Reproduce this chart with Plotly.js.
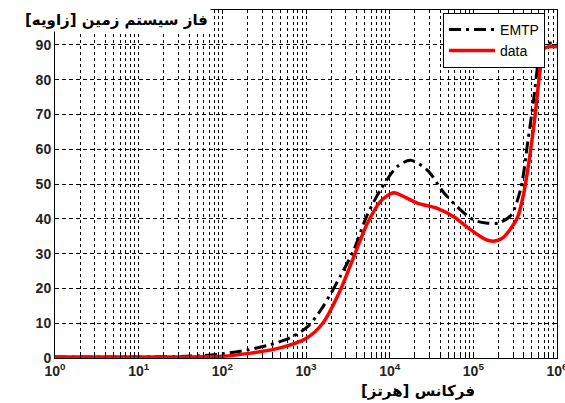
<!DOCTYPE html>
<html>
<head>
<meta charset="utf-8">
<script src="https://cdn.plot.ly/plotly-3.0.1.min.js"></script>
<style>
  html, body { margin: 0; padding: 0; background: #fff; }
  #chart { width: 565px; height: 403px; }
</style>
</head>
<body>
<div id="chart"></div>
<script>
// Ground system phase versus frequency: EMTP model against measured data
const emtpFreq = [1, 10, 50, 100, 200, 372, 646, 1047, 1622, 2570, 3715, 5370, 7762, 12300,
  17780, 28180, 44670, 70790, 100000, 141300, 199500, 281800, 371500, 446700, 524800,
  602600, 660700, 1000000];
const emtpPhase = [0.3, 0.3, 0.6, 1.2, 2.3, 3.8, 5.8, 9, 15, 23.5, 31, 41, 48.3, 55,
  56.8, 54, 47.4, 42.5, 39.7, 38.8, 38.8, 41, 49, 62, 74, 86, 90, 90.5];

const dataFreq = [1, 10, 100, 219, 490, 1000, 1585, 2570, 3715, 5370, 7762, 11220,
  15850, 21380, 37150, 58880, 93330, 141300, 177800, 223900, 257000, 338800, 398100,
  446700, 537000, 631000, 707900, 1000000];
const dataPhase = [0.3, 0.3, 0.5, 1.4, 2.9, 5.6, 10, 19.5, 29, 38.5, 45, 47.5,
  46, 44.5, 43, 40.5, 36.8, 34, 33.6, 34.5, 36, 40.5, 47, 54, 68, 83, 89, 89.5];

// decade ticks carry the labels; 2..9 x 10^n get minor ticks and grid lines
const decades = [0, 1, 2, 3, 4, 5, 6];
const xTickVals = decades.map(function (d) { return Math.pow(10, d); });
const xTickText = decades.map(function (d) { return '10<sup>' + d + '</sup>'; });
const xMinorVals = [];
decades.slice(0, -1).forEach(function (d) {
  [2, 3, 4, 5, 6, 7, 8, 9].forEach(function (m) { xMinorVals.push(m * Math.pow(10, d)); });
});
const yTickVals = [0, 10, 20, 30, 40, 50, 60, 70, 80, 90];

const xTitle = 'فرکانس [هرتز]';
const yTitle = 'فاز سیستم زمین [زاویه]';

const tickFont = { family: 'Arial, "Liberation Sans", sans-serif', size: 14, color: '#222', weight: 'bold' };
const titleFont = { family: 'Tahoma, "DejaVu Sans", sans-serif', size: 15, color: '#000', weight: 'bold' };

const traces = [
  {
    x: emtpFreq, y: emtpPhase, name: 'EMTP', type: 'scatter', mode: 'lines',
    line: { color: '#000', width: 3, dash: '12px,5px,3px,5px', shape: 'spline', smoothing: 0.8 }
  },
  {
    x: dataFreq, y: dataPhase, name: 'data', type: 'scatter', mode: 'lines',
    line: { color: '#ff0000', width: 3.5, shape: 'spline', smoothing: 0.8 }
  }
];

const layout = {
  width: 565, height: 403,
  margin: { l: 55, r: 8, t: 10, b: 45 },
  paper_bgcolor: '#fff', plot_bgcolor: '#fff',
  showlegend: true,
  legend: {
    x: 0.773, y: 0.992, xanchor: 'left', yanchor: 'top',
    bgcolor: '#fff', bordercolor: '#000', borderwidth: 1,
    font: { family: 'Arial, "Liberation Sans", sans-serif', size: 14, color: '#000' },
    itemwidth: 46, tracegroupgap: 0
  },
  xaxis: {
    type: 'log', range: [0, 6],
    tickmode: 'array', tickvals: xTickVals, ticktext: xTickText, tickangle: 0,
    tickfont: tickFont, ticks: 'inside', ticklen: 4, tickcolor: '#000',
    ticklabeloverflow: 'allow',
    showgrid: true, gridcolor: '#000', gridwidth: 1, griddash: '3px,3px',
    minor: {
      tickmode: 'array', tickvals: xMinorVals,
      ticks: 'inside', ticklen: 3, tickcolor: '#000',
      showgrid: true, gridcolor: '#000', gridwidth: 1, griddash: '3px,3px'
    },
    showline: true, linecolor: '#000', linewidth: 1, mirror: 'ticks',
    zeroline: false
  },
  yaxis: {
    range: [0, 100],
    tickmode: 'array', tickvals: yTickVals,
    tickfont: tickFont, ticks: 'inside', ticklen: 4, tickcolor: '#000',
    showgrid: true, gridcolor: '#000', gridwidth: 1, griddash: '4px,3px',
    showline: true, linecolor: '#000', linewidth: 1, mirror: 'ticks',
    zeroline: false
  },
  annotations: [
    {
      text: yTitle, xref: 'paper', yref: 'paper', x: 0.1235, y: 0.971,
      xanchor: 'center', yanchor: 'middle', showarrow: false,
      font: titleFont, bgcolor: '#fff', borderpad: 2
    },
    {
      text: xTitle, xref: 'paper', yref: 'paper', x: 0.723, y: -0.095,
      xanchor: 'center', yanchor: 'middle', showarrow: false,
      font: titleFont
    }
  ]
};

Plotly.newPlot('chart', traces, layout, { staticPlot: true, displayModeBar: false });
</script>
</body>
</html>
